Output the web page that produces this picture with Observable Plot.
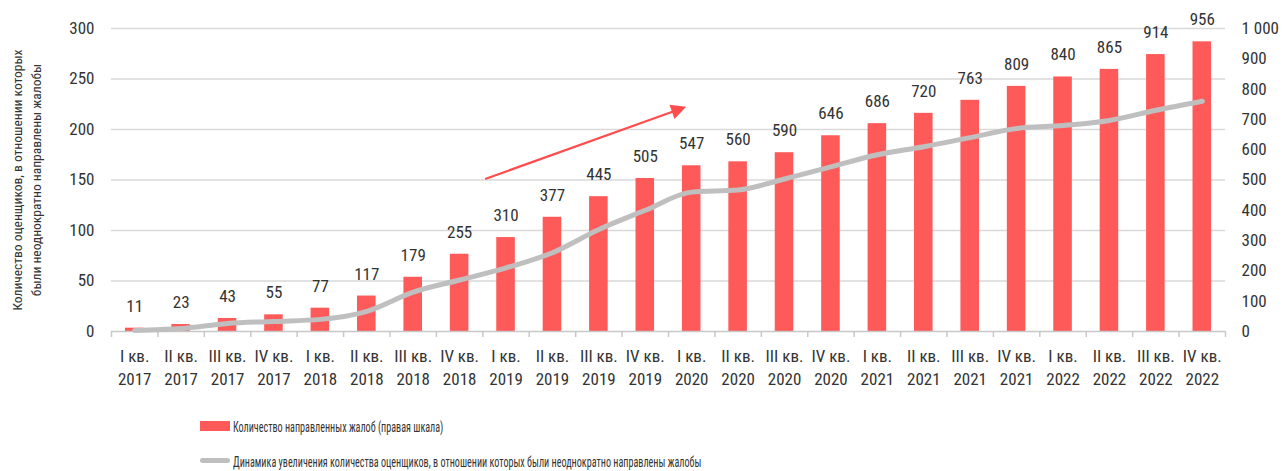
<!DOCTYPE html>
<html>
<head>
<meta charset="utf-8">
<script src="https://cdn.jsdelivr.net/npm/d3@7"></script>
<script src="https://cdn.jsdelivr.net/npm/@observablehq/plot@0.6"></script>
<style>
  body { margin: 0; background: #fff; }
  #wrap { position: relative; width: 1282px; height: 471px; overflow: hidden;
          font-family: 'Liberation Sans Narrow', 'Roboto Condensed', 'Liberation Sans', sans-serif; color: #333; }
  .sw { position: absolute; }
  .lg { position: absolute; font-size: 14px; white-space: nowrap; transform: scaleX(0.723); transform-origin: left center; }
</style>
</head>
<body>
<div id="wrap"></div>
<script>
const quarters = ["I кв.", "II кв.", "III кв.", "IV кв.",
  "I кв.", "II кв.", "III кв.", "IV кв.",
  "I кв.", "II кв.", "III кв.", "IV кв.",
  "I кв.", "II кв.", "III кв.", "IV кв.",
  "I кв.", "II кв.", "III кв.", "IV кв.",
  "I кв.", "II кв.", "III кв.", "IV кв."];
const years = ["2017","2017","2017","2017","2018","2018","2018","2018",
  "2019","2019","2019","2019","2020","2020","2020","2020",
  "2021","2021","2021","2021","2022","2022","2022","2022"];
// Количество направленных жалоб (правая шкала)
const complaints = [11, 23, 43, 55, 77, 117, 179, 255, 310, 377, 445, 505,
  547, 560, 590, 646, 686, 720, 763, 809, 840, 865, 914, 956];
// Количество оценщиков (левая шкала)
const appraisers = [1, 3, 8, 10, 12, 20, 39, 51, 63, 78, 101, 120,
  138, 140, 151, 163, 175, 183, 192, 201, 204, 209, 219, 228];
const leftTicks = [0, 50, 100, 150, 200, 250, 300];
const rightTicks = [0, 100, 200, 300, 400, 500, 600, 700, 800, 900, 1000];
const arrowX = [7.56, 11.89];
const arrowY = [150.5, 222];

const yTitle = "Количество оценщиков, в отношении которых\nбыли неоднократно направлены жалобы";
const legend1 = "Количество направленных жалоб (правая шкала)";
const legend2 = "Динамика увеличения количества оценщиков, в отношении которых были неоднократно направлены жалобы";

const ratio = 300 / 1000;
const idx = d3.range(complaints.length);
const fmtR = v => { const n = Math.round(v / ratio); return n >= 1000 ? d3.format(",")(n).replace(",", "\u00a0") : String(n); };

const RED = "#ff5a5a", GREY = "#bfbfbf";

function arrowMark(index, scales) {
  const x0 = scales.x(arrowX[0]), y0 = scales.y(arrowY[0]);
  const x1 = scales.x(arrowX[1]), y1 = scales.y(arrowY[1]);
  const dx = x1 - x0, dy = y1 - y0, L = Math.hypot(dx, dy);
  const ux = dx / L, uy = dy / L, hl = 15, hw = 7.5;
  const bx = x1 - ux * hl, by = y1 - uy * hl;
  const g = d3.create("svg:g");
  g.append("line").attr("x1", x0).attr("y1", y0).attr("x2", bx + ux * 2).attr("y2", by + uy * 2)
    .attr("stroke", "#ff4d4d").attr("stroke-width", 2.2);
  g.append("path").attr("d", `M${x1},${y1}L${bx - uy * hw},${by + ux * hw}L${bx + uy * hw},${by - ux * hw}Z`)
    .attr("fill", "#ff4d4d");
  return g.node();
}

function titleMark(index, scales) {
  const cx = scales.x(-0.5) - 84, cy = scales.y(149.5);
  const lines = yTitle.split("\n");
  const g = d3.create("svg:g").attr("transform", `translate(${cx},${cy}) rotate(-90)`);
  lines.forEach((t, k) => {
    g.append("text").attr("x", 0).attr("y", (k - (lines.length - 1) / 2) * 19)
      .attr("dy", "0.35em").attr("text-anchor", "middle")
      .attr("font-size", 13.5).attr("fill", "#333").text(t);
  });
  return g.node();
}

const chart = Plot.plot({
  width: 1282,
  height: 400,
  marginLeft: 111,
  marginRight: 57,
  marginTop: 28,
  marginBottom: 69,
  style: { fontFamily: "'Liberation Sans Narrow', 'Roboto Condensed', 'Liberation Sans', sans-serif", fontSize: "17px", color: "#333", overflow: "visible" },
  x: { type: "linear", domain: [-0.5, 23.5] },
  y: { domain: [0, 300] },
  marks: [
    Plot.gridY(leftTicks.slice(1), { stroke: "#d9d9d9", strokeOpacity: 1, strokeWidth: 1.5 }),
    Plot.rectY(idx, { x1: i => i - 0.2, x2: i => i + 0.2, y1: 0, y2: i => complaints[i] * ratio, fill: RED }),
    Plot.ruleY([0], { stroke: "#c8c8c8", strokeWidth: 1.5 }),
    Plot.axisX(d3.range(25).map(i => i - 0.5), { tickSize: 6, tickFormat: () => "", stroke: "#c8c8c8", strokeWidth: 1.5, label: null }),
    Plot.axisX(idx, { tickSize: 0, tickPadding: 18, tickFormat: i => quarters[i], label: null, fontSize: 17 }),
    Plot.axisX(idx, { tickSize: 0, tickPadding: 41, tickFormat: i => years[i], label: null, fontSize: 17 }),
    Plot.axisY(leftTicks, { anchor: "left", tickSize: 0, tickPadding: 17, label: null, fontSize: 17 }),
    Plot.axisY(rightTicks.map(v => v * ratio), { anchor: "right", tickSize: 0, tickPadding: 16, tickFormat: fmtR, label: null, fontSize: 17 }),
    Plot.line(idx, { x: i => i, y: i => appraisers[i], stroke: GREY, strokeWidth: 5, curve: "monotone-x", strokeLinecap: "round" }),
    Plot.text(idx, { x: i => i, y: i => complaints[i] * ratio, text: i => String(complaints[i]), dy: -22, fontSize: 17, fill: "#333" }),
    titleMark,
    arrowMark
  ]
});

const wrap = document.getElementById("wrap");
chart.style.position = "absolute";
chart.style.left = "0px";
chart.style.top = "0px";
wrap.appendChild(chart);

function add(tag, cls, css, text) {
  const el = document.createElement(tag);
  el.className = cls;
  Object.assign(el.style, css);
  if (text) el.textContent = text;
  wrap.appendChild(el);
}
add("div", "sw", { left: "200px", top: "421px", width: "30px", height: "10px", background: RED });
add("div", "lg", { left: "233px", top: "419px" }, legend1);
add("div", "sw", { left: "200px", top: "458px", width: "30px", height: "5px", background: GREY, borderRadius: "3px" });
add("div", "lg", { left: "233px", top: "454px" }, legend2);
</script>
</body>
</html>
